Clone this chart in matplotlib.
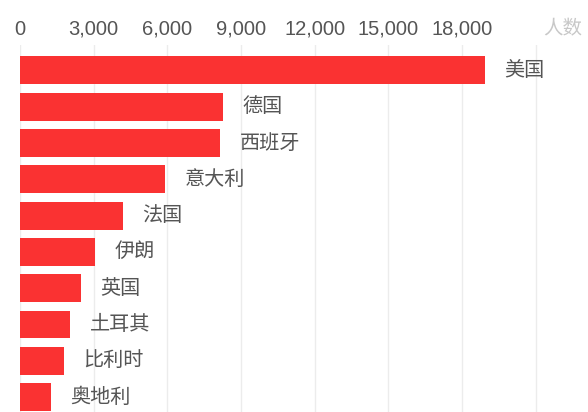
import numpy as np
import matplotlib
matplotlib.use('Agg')
import matplotlib.pyplot as plt

plt.rcParams['font.family'] = ['Liberation Sans', 'Noto Sans CJK SC', 'DejaVu Sans']

# Data
countries = ['美国', '德国', '西班牙', '意大利', '法国', '伊朗', '英国', '土耳其', '比利时', '奥地利']
counts = [18940, 8270, 8150, 5900, 4190, 3050, 2480, 2040, 1790, 1260]
tick_values = [0, 3000, 6000, 9000, 12000, 15000, 18000, 21000]
tick_labels = ['0', '3,000', '6,000', '9,000', '12,000', '15,000', '18,000', '']
unit_label = '人数'

bar_color = '#fa3232'
text_color = '#555555'
cjk = ['Noto Sans CJK SC', 'DejaVu Sans']

fig = plt.figure(figsize=(5.88, 4.12), dpi=100)
ax = fig.add_axes([20 / 588, 0, 568 / 588, 367 / 412])

y = np.arange(len(countries))
ax.barh(y, counts, height=0.77, color=bar_color, zorder=2)

# country names just right of each bar
for yi, c, name in zip(y, counts, countries):
    ax.annotate(name, xy=(c, yi), xytext=(14, 0), textcoords='offset points',
                ha='left', va='center', fontsize=14.5, color=text_color, family=cjk)

ax.set_xlim(0, 23130)
ax.set_ylim(9.41, -0.70)
ax.xaxis.tick_top()
ax.set_xticks(tick_values)
ax.set_xticklabels(tick_labels)
ax.tick_params(axis='x', length=0, pad=4.5, labelsize=14.5, labelcolor=text_color)
ax.set_yticks([])
ax.grid(axis='x', color='#ececec', linewidth=1, zorder=0)
for s in ax.spines.values():
    s.set_visible(False)

fig.text(563 / 588, 1 - 29 / 412, unit_label, ha='center', va='center',
         fontsize=14, color='#c8c8c8', family=cjk)

fig.savefig('out.png', dpi=100)
